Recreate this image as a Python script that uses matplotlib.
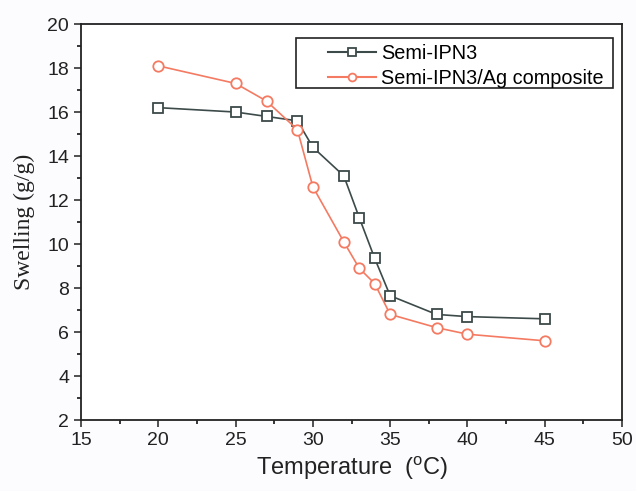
import matplotlib
matplotlib.use('Agg')
from matplotlib import pyplot as plt
from matplotlib.patches import Rectangle
from matplotlib.ticker import MultipleLocator

# data
temp = [20, 25, 27, 29, 30, 32, 33, 34, 35, 38, 40, 45]
ipn3 = [16.2, 16.0, 15.8, 15.6, 14.4, 13.1, 11.2, 9.35, 7.65, 6.8, 6.7, 6.6]
ipn3_ag = [18.1, 17.3, 16.5, 15.2, 12.6, 10.1, 8.9, 8.2, 6.8, 6.2, 5.9, 5.6]
labels = ['Semi-IPN3', 'Semi-IPN3/Ag composite']

plt.rcParams['font.family'] = ['Liberation Sans', 'DejaVu Sans']

fig = plt.figure(figsize=(6.36, 4.91), dpi=100)
fig.patch.set_facecolor('#fcfcfe')
ax = fig.add_axes([0.1274, 0.1446, 0.978 - 0.1274, 0.951 - 0.1446])
ax.set_facecolor('white')

ax.plot(temp, ipn3, '-s', color='#3d4a4a', lw=1.2, ms=7, mfc='white',
        mec='#3d4a4a', mew=1.3, label=labels[0])
ax.plot(temp, ipn3_ag, '-o', color='#f47a62', lw=1.2, ms=7.5, mfc='white',
        mec='#f47a62', mew=1.3, label=labels[1])

ax.set_xlim(15, 50)
ax.set_ylim(2, 20)
ax.xaxis.set_major_locator(MultipleLocator(5))
ax.xaxis.set_minor_locator(MultipleLocator(2.5))
ax.yaxis.set_major_locator(MultipleLocator(2))
ax.yaxis.set_minor_locator(MultipleLocator(1))
ax.tick_params(which='major', direction='out', length=5, width=1.1, labelsize=14, colors='#222222')
ax.tick_params(which='minor', direction='out', length=3, width=1.1)
for s in ax.spines.values():
    s.set_linewidth(1.3)
    s.set_color('#222222')

ax.set_xlabel(r'Temperature  ($\mathregular{^o}$C)', fontsize=17, color='#222222', labelpad=4)
ax.set_ylabel('Swelling (g/g)', fontsize=17, family='Liberation Serif', color='#222222')
ax.yaxis.set_label_coords(-0.085, 0.5)

# legend box drawn separately (wide left margin like the original)
ax.add_patch(Rectangle((0.397, 0.838), 0.586, 0.127, transform=ax.transAxes,
                       fill=False, edgecolor='#222222', lw=1.2, zorder=5))
leg = ax.legend(loc='center left', bbox_to_anchor=(0.457, 0.895), fontsize=14.3,
                frameon=False, handlelength=2.4, borderpad=0, borderaxespad=0,
                labelspacing=0.3, handletextpad=0.25, markerscale=0.75)
for h in leg.get_lines():
    h.set_linewidth(1.5)

fig.savefig('out.png', dpi=100, facecolor=fig.get_facecolor())
